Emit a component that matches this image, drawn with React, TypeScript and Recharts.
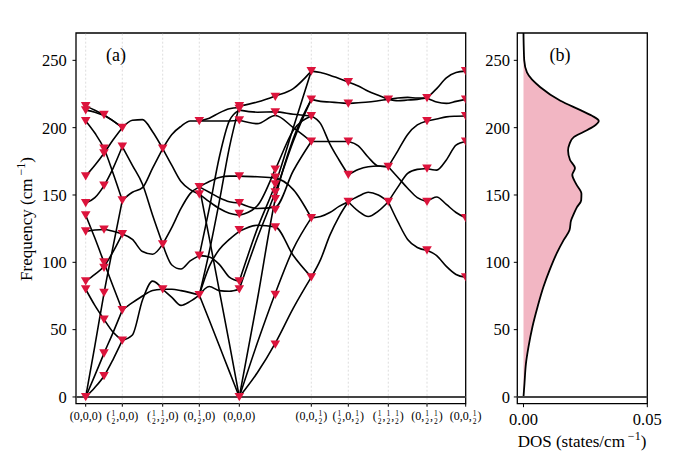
import React from "react"
import { Area, ComposedChart, Line, ReferenceArea, ReferenceLine, Scatter, XAxis, YAxis } from "recharts"

const serif = '"Liberation Serif", "DejaVu Serif", serif'

// high-symmetry path (distance along path)
const symK = [0, 0.366, 0.77, 1.136, 1.536, 2.256, 2.626, 3.026, 3.413, 3.8]
const symNames = ["Γ", "X", "S", "Y", "Γ", "Z", "U", "R", "T", "Z"]
const symCoords = ["(0,0,0)", "(½,0,0)", "(½,½,0)", "(0,½,0)", "(0,0,0)", "(0,0,½)", "(½,0,½)", "(½,½,½)", "(0,½,½)", "(0,0,½)"]
const freqTicks = [0, 50, 100, 150, 200, 250]

// band frequencies (cm^-1) per segment, sampled at 0, 1/4, 1/2, 3/4, 1 of the segment
const gammaX = [
  [0, 7, 15.6, 28, 42],
  [0, 16, 32.4, 48, 64.5],
  [0, 38, 77, 112, 146],
  [80, 68, 57.6, 48, 42],
  [86, 91, 97, 108, 121],
  [123, 124, 124.4, 123, 121],
  [135, 118, 100, 82, 64.5],
  [144, 148, 157, 170, 186],
  [164, 172, 181, 191, 200],
  [205, 196, 184.5, 166, 146],
  [213, 211.5, 209, 205, 200],
  [216, 213, 209.5, 205, 200],
]
const xS = [
  [200, 205.5, 206, 197, 184.5],
  [186, 172, 158, 135, 113.5],
  [146, 152, 155.5, 170, 184.5],
  [121, 117, 108, 106, 113.5],
  [64.5, 70, 75, 79, 80],
  [42, 46, 72, 86, 80],
]
const sY = [
  [184.5, 195, 201, 205, 205],
  [184.5, 172, 160, 154, 150.6],
  [113.5, 126, 140, 151, 156],
  [113.5, 98, 95, 101, 105],
  [80, 74, 68, 71, 75.7],
  [80, 80, 79, 77.5, 75.7],
]
const yGamma = [
  [205, 205, 205, 205, 205.5],
  [205, 207, 211, 214, 215],
  [156, 160, 163, 164, 164],
  [156, 152, 148, 145, 144],
  [150.6, 145, 140, 136.5, 135],
  [105, 104, 98.5, 89, 86],
  [75.7, 82, 79, 78.5, 80],
  [75.7, 97, 109.5, 117, 123],
  [75.7, 57, 38, 19, 0],
  [156, 118, 79, 40, 0],
  [105, 140, 178, 205, 213],
  [75.7, 108, 145, 185, 216],
]
const gammaZ = [
  [216, 219, 223.5, 229, 242],
  [213, 211.5, 211.7, 210, 208.7],
  [205.5, 203, 209, 200, 189.7],
  [0, 18, 40, 66, 89],
  [0, 40, 77, 110, 133],
  [0, 72, 147, 192, 221],
  [80, 118, 152, 190, 221],
  [86, 125, 158, 200, 242],
  [123, 127.5, 126.3, 105, 89],
  [135, 142, 169, 198, 208.7],
  [144, 140, 141, 168, 189.7],
  [164, 163.5, 162.5, 154, 133],
]
const zU = [
  [242, 241, 239, 236.5, 234],
  [221, 219.5, 219, 218.5, 218],
  [208.7, 203, 188, 176, 165],
  [189.7, 189.7, 189.7, 189.7, 189.7],
  [133, 134, 137, 141.5, 145],
  [89, 102, 120, 134, 145],
]
const uR = [
  [234, 231, 227, 224, 221],
  [218, 218.5, 219, 220, 221],
  [189.7, 186.5, 178, 171.5, 171],
  [165, 169, 171, 171.5, 171],
  [145, 149, 152, 150, 145],
  [145, 138, 134, 138, 145],
]
const rT = [
  [221, 222, 222.5, 222, 222],
  [221, 220, 220.5, 221, 222],
  [171, 183, 195, 202, 205],
  [171, 163, 155, 148, 145],
  [145, 156, 166, 169, 169.7],
  [145, 130, 117, 111, 109],
]
const tZ = [
  [222, 229, 237, 241, 242],
  [222, 219, 218, 219.5, 221],
  [205, 206.5, 208, 208.5, 208.7],
  [169.7, 168.5, 176, 187, 189.7],
  [145, 148.5, 143, 137, 133],
  [109, 105, 97, 91, 89],
]

// red triangles: positions along the path and frequencies there
const markK = [0, 0.183, 0.366, 0.77, 1.136, 1.536, 1.896, 2.256, 2.626, 3.026, 3.413, 3.8]
const markFreq = [
  [0, 80, 86, 123, 135, 144, 164, 205, 213, 216],
  [15.6, 32.4, 57.6, 77.4, 96, 100, 124.4, 157, 181, 184.5, 209.5],
  [42, 64.5, 121, 146, 186, 200],
  [80, 113.5, 184.5],
  [75.7, 105, 150.6, 156, 205],
  [0, 80, 86, 124, 136, 144, 164, 205.5, 214, 216],
  [39, 76, 126, 139, 147, 152, 158, 163, 169, 211.5, 223],
  [89, 133, 189.7, 208.7, 221, 242],
  [145, 165, 189.7, 218, 234],
  [145, 171, 221],
  [109, 145, 169.7, 205, 222],
  [89, 133, 189.7, 208.7, 221, 242],
]

// phonon DOS
const dosFreq = [0, 10, 25, 37, 52, 67, 82, 94, 107, 116.5, 124, 131, 136, 141, 146, 151, 158, 165, 170, 176, 183, 188, 193, 196.8, 201, 205, 209, 213, 220, 230, 241, 250, 260, 270.3]
const dosValue = [0, 0.0004, 0.001, 0.002, 0.0036, 0.0057, 0.0081, 0.0105, 0.0135, 0.0162, 0.0186, 0.0192, 0.0203, 0.0216, 0.0233, 0.0234, 0.0213, 0.0197, 0.0208, 0.0188, 0.018, 0.0186, 0.0203, 0.0242, 0.0284, 0.0304, 0.0275, 0.023, 0.0149, 0.0068, 0.0014, 0.0003, 0.0001, 0]

const segments = [gammaX, xS, sY, yGamma, gammaZ, zU, uR, rT, tZ]
const bandLines = segments.flatMap((seg, s) =>
  seg.map((vals) =>
    vals.map((f, j) => ({ k: symK[s] + ((symK[s + 1] - symK[s]) * j) / (vals.length - 1), f }))
  )
)
const marks = markK.flatMap((k, i) => markFreq[i].map((f) => ({ k, f })))
const dosData = dosFreq.map((f, i) => ({ f, d: dosValue[i] }))

const kDomain = [-0.097, 3.8]
const fDomain = [-5, 270.3]

const Tri = (p: any) => (
  <polygon
    points={`${p.cx - 4.8},${p.cy - 4} ${p.cx + 4.8},${p.cy - 4} ${p.cx},${p.cy + 4.3}`}
    fill="#dc143c"
  />
)

// coordinate labels with a small stacked 1/2
const CoordTick = (p: any) => {
  const parts = symCoords[p.index].split("½")
  const kids: any[] = []
  parts.forEach((s, i) => {
    if (i > 0) {
      kids.push(<tspan key={`n${i}`} fontSize={7.5} dx={1} dy={-4}>1</tspan>)
      kids.push(<tspan key={`d${i}`} fontSize={7.5} dx={-3.8} dy={8}>2</tspan>)
      kids.push(<tspan key={`s${i}`} dx={1} dy={-4}>{s}</tspan>)
    } else {
      kids.push(<tspan key="s0">{s}</tspan>)
    }
  })
  return (
    <text x={p.x} y={p.y} dy={11} textAnchor="middle" fontSize={12} fontFamily={serif} fill="#000">
      {kids}
    </text>
  )
}

const FreqLabel = () => (
  <text x={32} y={219} transform="rotate(-90 32 219)" textAnchor="middle" fontSize={17} fontFamily={serif} fill="#000">
    Frequency (cm
    <tspan dy={-7} fontSize={12}> −1</tspan>
    <tspan dy={7}>)</tspan>
  </text>
)

const DosLabel = () => (
  <text x={132} y={447} textAnchor="middle" fontSize={17} fontFamily={serif} fill="#000">
    DOS (states/cm
    <tspan dy={-7} fontSize={12}> −1</tspan>
    <tspan dy={7}>)</tspan>
  </text>
)

const tickStyle = { fill: "#000", fontSize: 16.5, fontFamily: serif }

export default function App() {
  return (
    <div style={{ position: "absolute", left: 0, top: 0, width: 680, height: 451, background: "#fff", fontFamily: serif }}>
      <div style={{ position: "absolute", left: 0, top: 0 }}>
        <ComposedChart width={500} height={451} margin={{ top: 13, right: 34.3, bottom: 17.3, left: 16 }}>
          <XAxis
            dataKey="k"
            type="number"
            domain={kDomain}
            ticks={symK}
            interval={0}
            allowDataOverflow
            height={30}
            axisLine={false}
            tickSize={3}
            tickMargin={2}
            stroke="#000"
            tick={<CoordTick />}
          />
          <XAxis
            xAxisId="top"
            orientation="top"
            type="number"
            domain={kDomain}
            ticks={symK}
            interval={0}
            allowDataOverflow
            height={20}
            axisLine={false}
            tickLine={false}
            tickSize={0}
            tickMargin={12.3}
            tickFormatter={(_v: number, i: number) => symNames[i]}
            tick={{ fill: "#000", fontSize: 17, fontFamily: serif }}
          />
          <YAxis
            dataKey="f"
            type="number"
            domain={fDomain}
            ticks={freqTicks}
            interval={0}
            allowDataOverflow
            width={60}
            axisLine={false}
            tickSize={3.5}
            tickMargin={5.8}
            stroke="#000"
            tick={tickStyle}
            label={{ content: <FreqLabel /> }}
          />
          <YAxis
            yAxisId="right"
            orientation="right"
            type="number"
            domain={fDomain}
            allowDataOverflow
            width={0}
            tick={false}
            tickLine={false}
            axisLine={{ stroke: "#000", strokeWidth: 1.3 }}
          />
          {symK.slice(0, -1).map((k, i) => (
            <ReferenceLine key={`g${i}`} x={k} stroke="#d4d4d4" strokeWidth={0.8} strokeDasharray="2 2" />
          ))}
          <ReferenceLine y={0} stroke="#444" strokeWidth={2} />
          {bandLines.map((pts, i) => (
            <Line
              key={`b${i}`}
              data={pts}
              dataKey="f"
              type="monotone"
              stroke="#000"
              strokeWidth={1.6}
              dot={false}
              isAnimationActive={false}
              legendType="none"
            />
          ))}
          <Scatter data={marks} dataKey="f" shape={Tri} isAnimationActive={false} />
          <ReferenceArea
            x1={kDomain[0]}
            x2={kDomain[1]}
            y1={fDomain[0]}
            y2={fDomain[1]}
            ifOverflow="visible"
            fill="none"
            stroke="#000"
            strokeWidth={1.3}
          />
        </ComposedChart>
      </div>

      <div style={{ position: "absolute", left: 450, top: 0 }}>
        <ComposedChart
          layout="vertical"
          width={230}
          height={451}
          data={dosData}
          margin={{ top: 33, right: 32.7, bottom: 17.3, left: 7.3 }}
        >
          <XAxis
            dataKey="d"
            type="number"
            domain={[-0.0025, 0.05]}
            ticks={[0, 0.05]}
            interval={0}
            allowDataOverflow
            height={30}
            axisLine={false}
            tickSize={3.5}
            tickMargin={6}
            stroke="#000"
            tickFormatter={(v: number) => v.toFixed(2)}
            tick={tickStyle}
            label={{ content: <DosLabel /> }}
          />
          <YAxis
            dataKey="f"
            type="number"
            domain={fDomain}
            ticks={freqTicks}
            interval={0}
            allowDataOverflow
            reversed
            width={60}
            axisLine={false}
            tickSize={3.5}
            tickMargin={3.8}
            stroke="#000"
            tick={tickStyle}
          />
          <ReferenceLine y={0} stroke="#444" strokeWidth={2} />
          <Area
            dataKey="d"
            type="monotone"
            baseValue={0}
            stroke="#000"
            strokeWidth={1.8}
            fill="#f2b6c3"
            fillOpacity={1}
            isAnimationActive={false}
          />
          <ReferenceArea
            x1={-0.0025}
            x2={0.05}
            y1={fDomain[0]}
            y2={fDomain[1]}
            ifOverflow="visible"
            fill="none"
            stroke="#000"
            strokeWidth={1.3}
          />
        </ComposedChart>
      </div>

      <svg width={680} height={451} style={{ position: "absolute", left: 0, top: 0, pointerEvents: "none" }}>
        <text x={116} y={61} textAnchor="middle" fontSize={18} fontFamily={serif} fill="#000">(a)</text>
        <text x={560} y={61} textAnchor="middle" fontSize={18} fontFamily={serif} fill="#000">(b)</text>
      </svg>
    </div>
  )
}
